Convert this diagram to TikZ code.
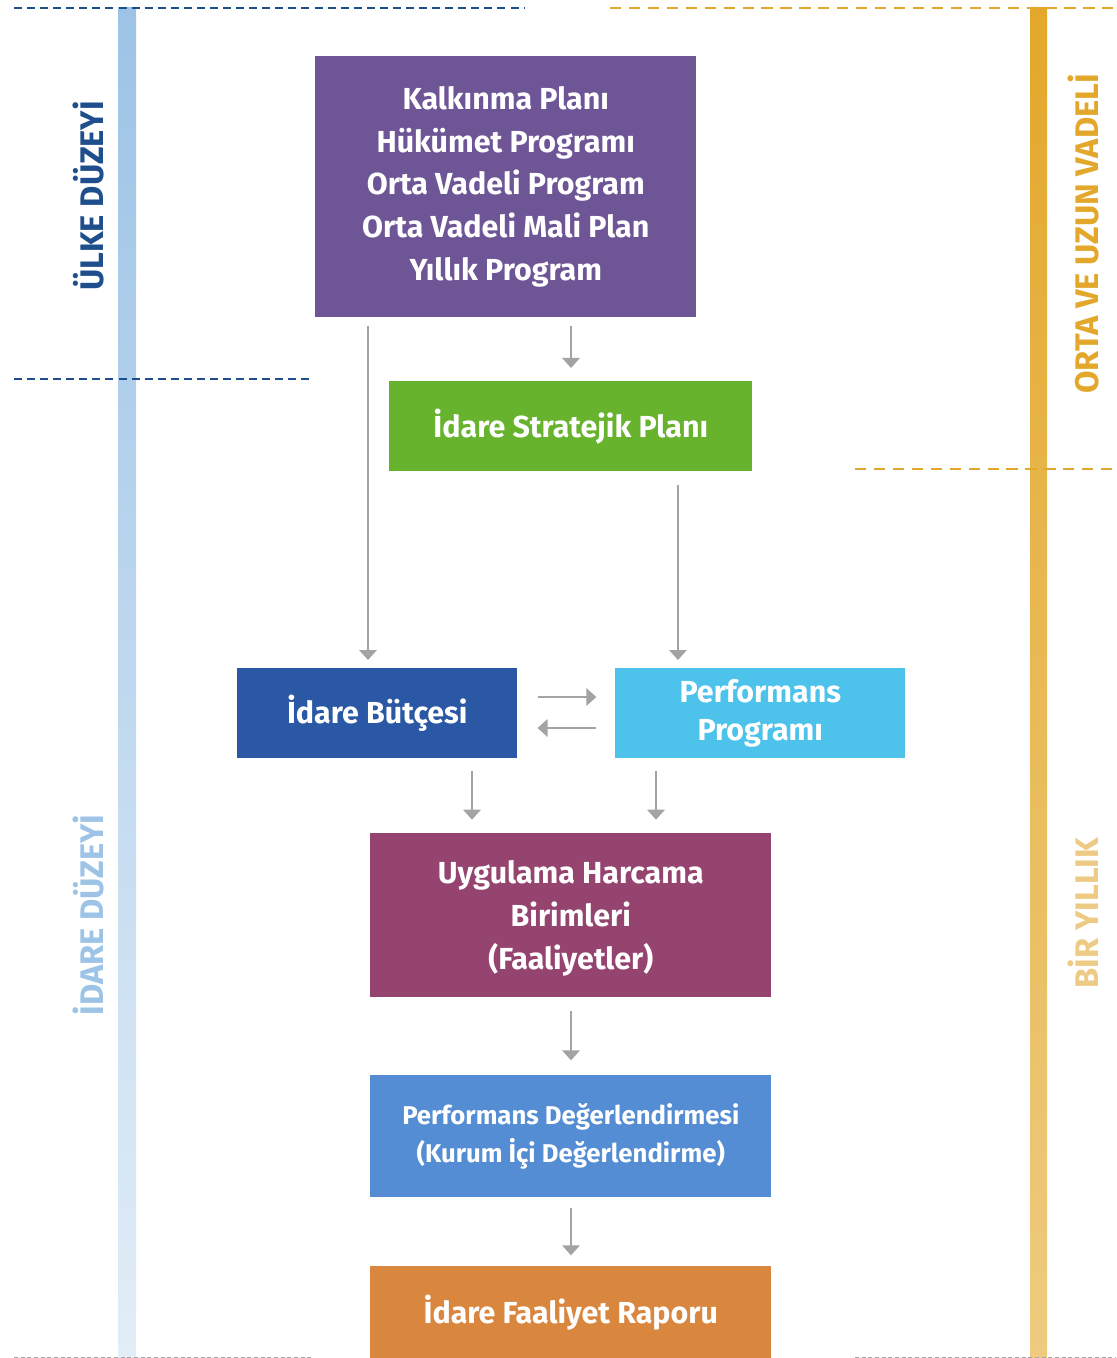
\documentclass[tikz,border=0pt]{standalone}
\usepackage{fontspec}
\setmainfont{Fira Sans}
\usetikzlibrary{arrows.meta,calc}
\definecolor{cPurple}{HTML}{6E5696}
\definecolor{cGreen}{HTML}{67B32E}
\definecolor{cDBlue}{HTML}{2B58A5}
\definecolor{cLBlue}{HTML}{4DC3EC}
\definecolor{cMaroon}{HTML}{954470}
\definecolor{cMBlue}{HTML}{548DD4}
\definecolor{cOrange}{HTML}{D9863F}
\definecolor{cArrow}{HTML}{A3A3A3}
\definecolor{cNavy}{HTML}{1F4E8C}
\definecolor{cGold}{HTML}{E3A82B}
\definecolor{cSky}{HTML}{9DC3E6}
\definecolor{cSand}{HTML}{EDCB85}
\tikzset{
  box/.style={rectangle, inner sep=0pt, text=white, font=\bfseries\fontsize{22.8}{32}\selectfont, align=center},
  arr/.style={draw=cArrow, line width=1.9pt, -{Triangle[width=13pt,length=7.5pt]}},
  navydash/.style={draw=cNavy, line width=2.2pt, dash pattern=on 6pt off 3.8pt},
  golddash/.style={draw=cGold, line width=2.2pt, dash pattern=on 8.4pt off 5.8pt},
  greydash/.style={draw=gray!70, line width=0.6pt, dash pattern=on 3pt off 2pt},
  sidelbl/.style={rotate=90, font=\bfseries\fontsize{24.5}{26}\selectfont}
}
\begin{document}
\begin{tikzpicture}[x=0.75pt,y=-0.75pt]
\useasboundingbox (0,0) rectangle (1116,1358);
% side bars
\shade[top color=cSky, bottom color=cSky!30] (118,8) rectangle (136,1358);
\shade[top color=cGold, bottom color=cGold!60] (1030,8) rectangle (1047,1358);
% dashed separators
\draw[navydash] (14,8) -- (525,8);
\draw[golddash] (610,8) -- (1116,8);
\draw[navydash] (14,379) -- (312,379);
\draw[golddash] (855,469) -- (1116,469);
\draw[greydash] (14,1357) -- (312,1357);
\draw[greydash] (855,1357) -- (1116,1357);
% side labels
\node[sidelbl, text=cNavy] (ulke) at (88,196) {ÜLKE DÜZEYİ};
\node[sidelbl, text=cSky] (idare) at (88,915) {İDARE DÜZEYİ};
\node[sidelbl, text=cGold] (orta) at (1083,234) {ORTA VE UZUN VADELİ};
\node[sidelbl, text=cSand] (bir) at (1083,913) {BİR YILLIK};
% boxes
\node[box, fill=cPurple, minimum width=381*0.75pt, minimum height=261*0.75pt, anchor=north west] (kp) at (315,56) {Kalkınma Planı\\Hükümet Programı\\Orta Vadeli Program\\Orta Vadeli Mali Plan\\Yıllık Program};
\node[box, fill=cGreen, minimum width=363*0.75pt, minimum height=90*0.75pt, anchor=north west] (sp) at (389,381) {İdare Stratejik Planı};
\node[box, fill=cDBlue, minimum width=280*0.75pt, minimum height=90*0.75pt, anchor=north west] (bud) at (237,668) {İdare Bütçesi};
\node[box, fill=cLBlue, minimum width=290*0.75pt, minimum height=90*0.75pt, anchor=north west, font=\bfseries\fontsize{22.8}{28.5}\selectfont] (pp) at (615,668) {Performans\\Programı};
\node[box, fill=cMaroon, minimum width=401*0.75pt, minimum height=164*0.75pt, anchor=north west] (uhb) at (370,833) {\rule{0pt}{22pt}Uygulama Harcama\\Birimleri\\(Faaliyetler)};
\node[box, fill=cMBlue, minimum width=401*0.75pt, minimum height=122*0.75pt, anchor=north west, font=\bfseries\fontsize{19.3}{28}\selectfont] (pd) at (370,1075) {Performans Değerlendirmesi\\(Kurum İçi Değerlendirme)};
\node[box, fill=cOrange, minimum width=401*0.75pt, minimum height=92*0.75pt, anchor=north west] (fr) at (370,1266) {İdare Faaliyet Raporu};
% arrow columns
\coordinate (c1) at (368,0);
\coordinate (c2) at (571,0);
\coordinate (c3) at (678,0);
\coordinate (c4) at (472,0);
\coordinate (c5) at (656,0);
\coordinate (r1) at (0,697);
\coordinate (r2) at (0,728);
% arrows
\draw[arr, shorten <=6pt, shorten >=6pt] (kp.south -| c1) -- (bud.north -| c1);
\draw[arr, shorten <=6pt] (kp.south -| c2) -- ($(sp.north -| c2)+(0,-13)$);
\draw[arr, shorten <=10pt, shorten >=6pt] (sp.south -| c3) -- (pp.north -| c3);
\draw[arr, shorten <=15pt, shorten >=14pt] (bud.east |- r1) -- (pp.west |- r1);
\draw[arr, shorten <=14pt, shorten >=15pt] (pp.west |- r2) -- (bud.east |- r2);
\draw[arr, shorten <=9pt, shorten >=10pt] (bud.south -| c4) -- (uhb.north -| c4);
\draw[arr, shorten <=9pt, shorten >=10pt] (pp.south -| c5) -- (uhb.north -| c5);
\draw[arr, shorten <=10pt, shorten >=11pt] (uhb.south -| c2) -- (pd.north -| c2);
\draw[arr, shorten <=8pt, shorten >=8pt] (pd.south -| c2) -- (fr.north -| c2);
\end{tikzpicture}
\end{document}
